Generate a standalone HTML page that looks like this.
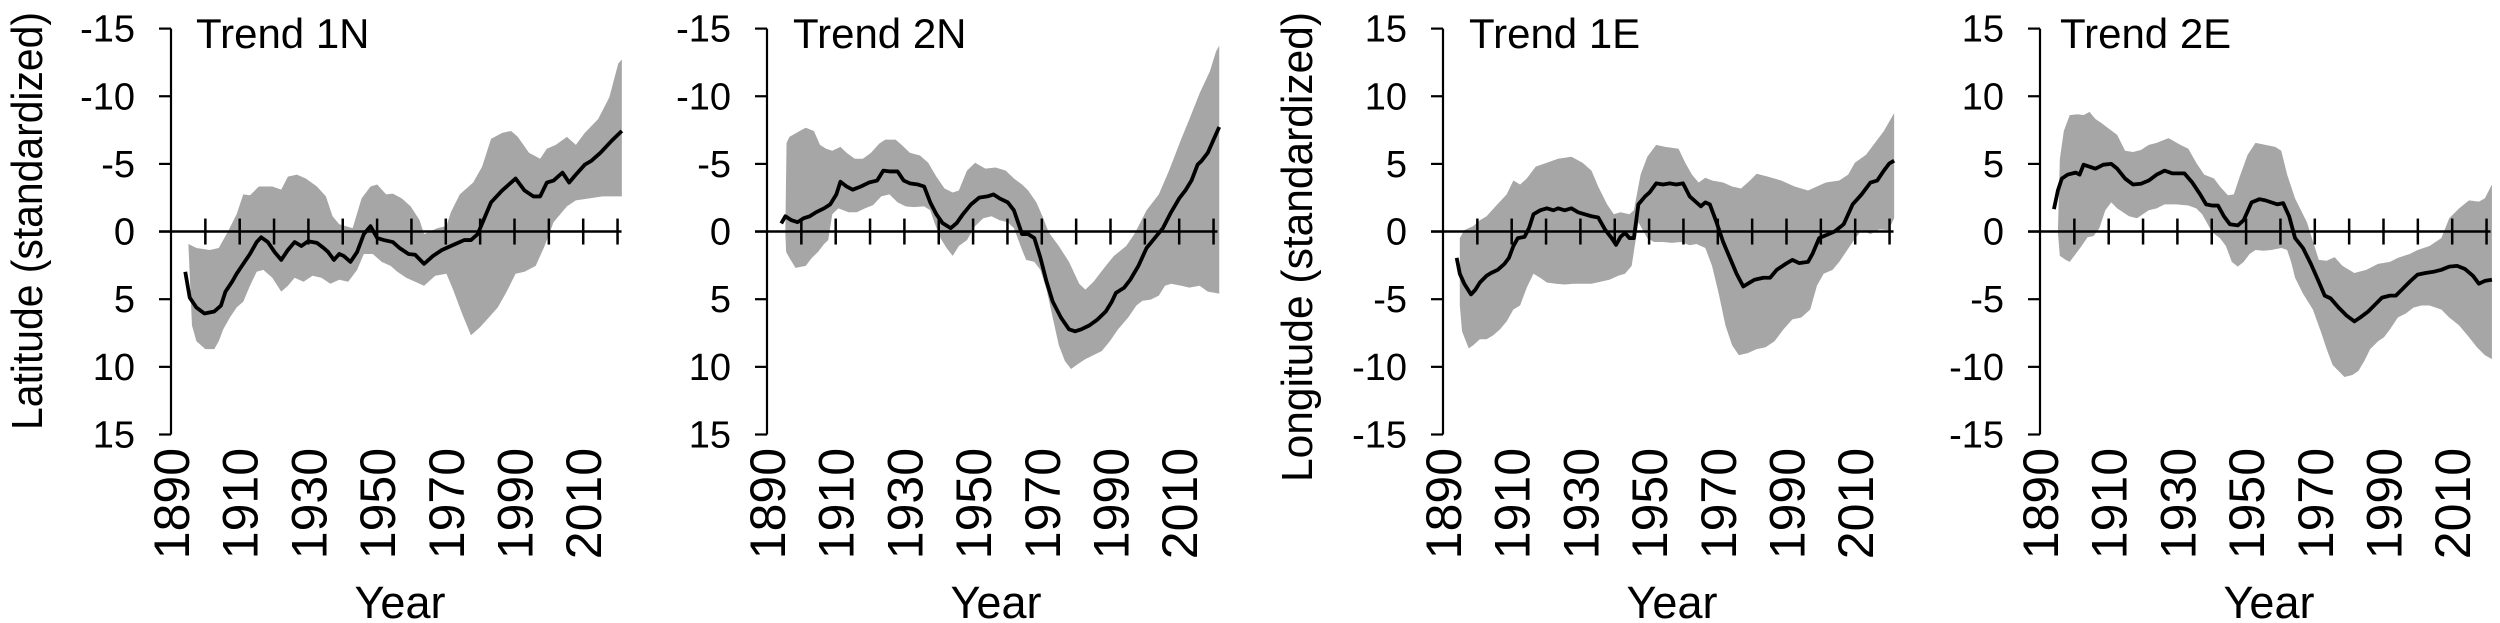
<!DOCTYPE html>
<html><head><meta charset="utf-8"><style>
html,body{margin:0;padding:0;background:#fff;width:2500px;height:623px;overflow:hidden}
svg{display:block}
text{font-family:"Liberation Sans",Arial,sans-serif;fill:#000}
.band{fill:#a6a6a6;stroke:none}
.ln{fill:none;stroke:#000;stroke-width:3.8;stroke-linejoin:round;vector-effect:non-scaling-stroke}
</style></head><body>
<svg id="s" width="2500" height="623" viewBox="0 0 2500 623" xmlns="http://www.w3.org/2000/svg">
<!-- Panel 1 -->
<g transform="translate(0,0) scale(0.4464,0.3968)">
<path class="band" d="M422,615 L440,625 470,630 490,625 510,585 530,540 545,490 560,492 580,470 610,470 630,478 645,445 665,440 685,450 710,470 730,495 745,545 760,565 790,575 810,500 830,470 845,465 865,490 880,488 900,500 920,520 940,555 950,590 980,575 1000,570 1010,535 1030,490 1060,460 1080,420 1100,350 1125,335 1145,330 1160,345 1185,385 1210,400 1225,375 1245,365 1270,345 1290,365 1310,335 1340,300 1365,245 1385,160 1393,150 L1393,495 1350,495 1320,500 1290,505 1270,520 1240,560 1220,620 1200,670 1175,685 1155,690 1135,735 1115,775 1095,800 1075,825 1055,845 1035,790 1015,730 1000,690 975,695 950,720 930,710 910,700 890,685 875,670 855,660 835,640 815,640 800,680 780,710 760,705 740,715 720,700 700,695 680,710 660,700 645,720 630,735 610,700 590,680 575,685 560,720 545,760 530,775 515,800 500,830 490,860 480,880 460,880 440,860 430,820 Z"/>
<path class="ln" d="M415,685 L425,750 440,775 458,790 480,785 495,770 505,735 520,710 530,690 545,665 560,640 575,610 585,598 600,610 615,635 630,655 645,630 660,610 675,620 690,608 710,612 725,625 735,635 748,655 760,640 770,645 785,660 800,635 815,590 830,570 845,600 860,605 880,610 895,625 915,640 930,642 950,665 970,645 990,630 1020,615 1040,605 1055,605 1070,590 1085,550 1100,510 1125,480 1140,465 1155,450 1175,480 1195,495 1210,495 1225,460 1240,455 1260,435 1275,460 1290,440 1310,415 1325,405 1345,385 1370,355 1393,330"/>
</g>
<!-- Panel 2 -->
<g transform="translate(620,0) scale(0.4082,0.3968)">
<path class="band" d="M405,585 L408,360 415,345 440,330 455,322 475,330 490,365 505,375 520,380 540,370 555,385 575,400 595,400 615,385 635,362 650,352 675,352 690,365 710,385 735,392 755,410 775,445 795,475 815,485 830,480 850,430 870,410 895,425 920,422 945,430 965,450 985,465 1000,480 1020,510 1035,545 1050,585 1075,620 1100,660 1125,715 1140,730 1160,710 1190,670 1210,645 1240,620 1260,590 1290,530 1320,490 1345,430 1375,350 1395,300 1420,235 1445,180 1460,130 1468,115 L1468,740 1440,735 1420,720 1395,725 1375,720 1350,715 1335,720 1320,745 1300,755 1280,758 1265,770 1245,800 1220,830 1200,860 1180,885 1160,895 1140,905 1125,915 1105,930 1090,910 1075,870 1060,800 1045,730 1030,680 1015,660 995,655 985,630 965,575 950,560 930,555 910,545 890,550 870,570 850,605 830,620 815,645 800,625 785,600 770,560 760,530 745,520 720,522 700,520 680,510 660,490 640,495 620,517 600,525 580,535 560,535 535,525 520,540 510,605 500,615 485,635 470,650 455,670 430,675 415,650 407,635 Z"/>
<path class="ln" d="M395,563 L405,545 420,555 435,560 450,550 465,545 480,535 500,525 515,515 530,490 540,458 555,470 570,478 590,470 610,460 630,455 645,430 660,432 680,432 695,455 710,462 730,465 745,470 760,510 775,540 790,562 810,575 825,562 840,540 860,515 880,498 900,495 915,490 930,500 950,510 965,530 975,560 985,590 1000,590 1015,600 1030,650 1045,710 1060,760 1080,800 1100,830 1115,835 1130,830 1150,820 1170,805 1190,785 1205,760 1215,738 1235,725 1250,705 1270,670 1290,625 1310,600 1330,575 1350,535 1370,500 1385,480 1400,455 1415,415 1425,405 1440,385 1455,350 1468,320"/>
</g>
<!-- Panel 3 -->
<g transform="translate(1250,0) scale(0.4464,0.3968)">
<path class="band" d="M470,600 L480,580 500,570 515,555 530,545 550,520 575,490 590,455 605,465 620,450 640,420 665,410 690,400 720,395 745,410 765,430 780,470 800,515 815,540 830,535 850,540 860,530 875,440 890,395 910,365 930,370 960,375 975,410 990,440 1005,460 1020,448 1035,455 1060,460 1080,470 1100,475 1120,455 1135,438 1160,445 1190,455 1220,470 1250,480 1270,470 1290,460 1320,455 1340,440 1355,410 1380,390 1400,360 1420,330 1443,285 L1443,550 1430,580 1410,578 1390,590 1370,580 1350,610 1335,635 1320,660 1305,680 1285,690 1270,720 1255,780 1235,800 1215,805 1195,830 1175,860 1155,875 1135,880 1115,890 1095,895 1080,870 1065,820 1050,740 1035,670 1020,625 1000,615 985,618 965,610 945,612 925,610 905,610 890,600 870,560 855,670 840,690 825,695 805,705 785,710 765,715 745,715 725,715 705,717 685,715 665,712 650,700 635,690 620,725 605,770 590,780 575,810 560,830 545,845 530,855 515,855 500,870 490,878 475,835 470,770 Z"/>
<path class="ln" d="M463,650 L470,690 480,715 495,742 505,730 515,712 530,695 540,688 555,680 570,665 580,650 590,620 600,600 615,597 625,575 635,540 650,530 665,525 680,530 690,525 705,530 720,525 735,535 750,540 765,545 780,548 795,578 810,600 820,617 830,597 840,587 850,600 860,600 870,515 885,495 895,485 910,462 925,465 940,462 955,465 970,462 985,495 1000,510 1010,520 1020,510 1030,515 1045,560 1060,610 1075,650 1090,690 1105,722 1115,715 1130,705 1150,700 1165,700 1180,680 1200,665 1215,655 1230,663 1250,660 1260,640 1275,600 1290,593 1310,583 1330,565 1350,515 1370,490 1390,460 1405,455 1420,430 1432,412 1443,405"/>
</g>
<!-- Panel 4 -->
<g transform="translate(1880,0) scale(0.3953,0.3968)">
<path class="band" d="M450,585 L455,400 465,330 480,290 500,288 515,290 530,282 545,300 560,310 580,325 600,340 620,380 640,383 660,378 680,365 700,360 730,348 760,365 780,375 800,410 820,440 845,450 860,470 880,492 895,490 910,445 930,390 950,360 975,365 1000,370 1015,380 1030,440 1050,500 1080,560 1110,655 1130,657 1150,648 1170,670 1200,688 1230,680 1260,665 1290,660 1310,650 1340,640 1360,630 1390,620 1420,600 1440,550 1465,525 1490,505 1515,508 1530,500 1548,465 L1548,905 1530,895 1510,875 1490,850 1465,820 1440,800 1420,780 1390,770 1370,770 1350,775 1330,790 1310,800 1290,830 1275,850 1260,860 1240,880 1225,910 1210,935 1195,945 1175,950 1160,935 1145,920 1130,880 1115,835 1095,780 1070,740 1050,700 1040,660 1030,630 1015,625 990,630 970,632 950,630 935,640 920,660 905,672 890,660 875,620 860,600 840,585 815,540 800,525 780,518 750,515 720,515 700,525 680,530 665,540 650,550 630,545 600,525 585,510 570,530 555,575 540,595 525,598 510,620 495,640 480,660 470,655 455,645 Z"/>
<path class="ln" d="M440,527 L450,480 460,450 475,440 495,435 505,440 515,415 530,420 545,425 565,415 585,413 600,425 620,450 640,465 660,463 680,455 700,440 720,430 740,437 770,437 790,460 810,490 825,515 840,518 855,518 870,545 885,565 905,568 920,555 940,510 960,502 975,505 990,510 1005,515 1020,512 1035,545 1050,600 1070,625 1090,665 1110,710 1125,745 1140,752 1160,775 1180,795 1200,810 1215,800 1235,785 1255,765 1270,750 1290,745 1305,745 1320,730 1340,710 1360,692 1380,688 1400,685 1420,680 1440,672 1460,670 1480,678 1500,695 1515,715 1530,708 1548,705"/>
</g>
<g id="axes"></g>
</svg>
<script>
(function(){
var g=document.getElementById('axes'),NS='http://www.w3.org/2000/svg';
function el(t,a,txt){var e=document.createElementNS(NS,t);for(var k in a)e.setAttribute(k,a[k]);if(txt!=null)e.textContent=txt;g.appendChild(e);return e;}
var panels=[
 {ax:171,title:'Trend 1N',tx:196,labs:['-15','-10','-5','0','5','10','15'],yt:'Latitude (standardized)',ytx:42,ytl:418,ytc:221},
 {ax:767,title:'Trend 2N',tx:793,labs:['-15','-10','-5','0','5','10','15']},
 {ax:1443,title:'Trend 1E',tx:1469,labs:['15','10','5','0','-5','-10','-15'],yt:'Longitude (standardized)',ytx:1312,ytl:470,ytc:247},
 {ax:2040,title:'Trend 2E',tx:2060,labs:['15','10','5','0','-5','-10','-15']}];
var top=28.6,bot=434.5,zero=(top+bot)/2,dec=34.35;
panels.forEach(function(p){
 var A=p.ax;
 el('line',{x1:A,y1:top,x2:A,y2:bot,stroke:'#000','stroke-width':2.2});
 for(var i=0;i<7;i++){var y=top+i*(bot-top)/6;
  el('line',{x1:A-12,y1:y,x2:A,y2:y,stroke:'#000','stroke-width':2.2});
  el('text',{x:A-36,y:y+13,'font-size':38,'text-anchor':'end'},p.labs[i]);}
 el('line',{x1:A-12,y1:zero,x2:A+13*dec+4,y2:zero,stroke:'#000','stroke-width':2.5});
 for(var j=1;j<=13;j++){var x=A+j*dec;el('line',{x1:x,y1:zero-13,x2:x,y2:zero+13,stroke:'#000','stroke-width':2.5});}
 for(var k=0;k<7;k++){var yr=1890+20*k,x2=A+2*k*dec;
  el('text',{transform:'translate('+(x2+18)+',448) rotate(-90)',x:0,y:0,'font-size':50,'text-anchor':'end'},String(yr));}
 el('text',{x:A+229,y:618,'font-size':45,'text-anchor':'middle'},'Year');
 el('text',{x:p.tx,y:48,'font-size':42},p.title);
 if(p.yt)el('text',{transform:'translate('+p.ytx+','+p.ytc+') rotate(-90)','font-size':44,'text-anchor':'middle',textLength:p.ytl,lengthAdjust:'spacingAndGlyphs'},p.yt);
});
})();
</script>
</body></html>
